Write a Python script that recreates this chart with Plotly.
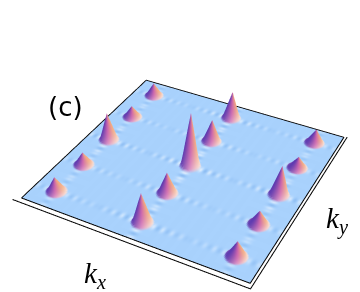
import numpy as np
import plotly.graph_objects as go

# Peak lattice and heights (tallest peak = 1)
kx_peaks = [-0.4, 0.0, 0.4]
ky_peaks = [-0.4, -0.2, 0.0, 0.2, 0.4]
heights_left = [0.28, 0.24, 0.52, 0.22, 0.25]
heights_mid = [0.56, 0.40, 1.00, 0.42, 0.52]
heights_right = [0.30, 0.27, 0.56, 0.22, 0.27]

# Peak cross-section: distance from the tip -> fraction of height
profile_r = [0.0, 0.006, 0.012, 0.02, 0.03, 0.038, 0.046]
profile_h = [1.0, 0.86, 0.71, 0.51, 0.26, 0.08, 0.0]

# Light/dark ripple lobes beside each peak: offset, strength
ripple_off = [0.050, 0.070, 0.090, 0.110, 0.130, 0.150, 0.170, 0.190]
ripple_amp = [1.0, -0.9, 0.85, -0.7, 0.6, -0.5, 0.45, -0.35]

FIG_W, FIG_H = 360, 590
EYE = dict(x=1.098, y=-2.153, z=1.836)
CENTER = dict(x=0.306, y=-0.666, z=0.0)
Z_UNIT = 0.26
Z_MAX = 1.2
BOX = 0.56

axis = np.linspace(-0.5, 0.5, 201)
X, Y = np.meshgrid(axis, axis)
Z = np.zeros_like(X)
R = np.zeros_like(X)
H = [heights_left, heights_mid, heights_right]

base = np.array([0xA9, 0xD2, 0xFD], float)
light = np.array([0xF6, 0xFA, 0xFF], float)
dark = np.array([0x78, 0xAC, 0xEA], float)
purple = np.array([0x5E, 0x3A, 0xB0], float)
magenta = np.array([0xCC, 0x62, 0xAC], float)
peach = np.array([0xF4, 0xAC, 0x80], float)
pale = np.array([0xFC, 0xF2, 0xF6], float)
view_x, view_y = 0.8846, 0.4675

for i, px in enumerate(kx_peaks):
    for j, py in enumerate(ky_peaks):
        dx, dy = X - px, Y - py
        for sx, sy in [(1, 0), (-1, 0), (0, 1), (0, -1)]:
            for off, amp in zip(ripple_off, ripple_amp):
                if sy != 0 and off > 0.1:
                    continue
                if abs(px + sx * off) > 0.49 or abs(py + sy * off) > 0.49:
                    continue
                wa, wc = 0.009, 0.017
                along = (dx - sx * off) if sx else (dy - sy * off)
                across = dy if sx else dx
                R = R + amp * min(1.0, 0.3 + H[i][j]) * np.exp(-(along / wa) ** 2 - (across / wc) ** 2)

rp = np.clip(R, 0, 1)[..., None] * 0.7
rn = np.clip(-R, 0, 1)[..., None] * 0.65
RGB = base * (1 - rp - rn) + light * rp + dark * rn

for i, px in enumerate(kx_peaks):
    for j, py in enumerate(ky_peaks):
        dx, dy = X - px, Y - py
        r = np.hypot(dx, dy)
        bump = np.interp(r, profile_r, profile_h)
        Z = Z + H[i][j] * bump
        side = (dx * view_x + dy * view_y) / np.maximum(r, 1e-6)
        t = (np.clip(side + 1, 0, 2) / 2)[..., None]
        col = np.where(t < 0.5, purple + (magenta - purple) * t * 2,
                       magenta + (peach - magenta) * (t - 0.5) * 2)
        low = ((1 - bump) ** 4)[..., None]
        col = col + (pale - col) * low * (0.05 + 0.85 * t)
        a = np.clip(bump / 0.05, 0, 1)[..., None]
        RGB = RGB * (1 - a) + col * a

vertexcolor = ["rgb(%d,%d,%d)" % tuple(c) for c in np.clip(RGB, 0, 255).reshape(-1, 3).astype(int)]
n = len(axis)
idx = np.arange(n * n).reshape(n, n)
a_, b_, c_, d_ = idx[:-1, :-1].ravel(), idx[:-1, 1:].ravel(), idx[1:, 1:].ravel(), idx[1:, :-1].ravel()

fig = go.Figure()
fig.add_trace(go.Mesh3d(
    x=X.ravel(), y=Y.ravel(), z=Z.ravel(),
    i=np.concatenate([a_, a_]), j=np.concatenate([b_, c_]), k=np.concatenate([c_, d_]),
    vertexcolor=vertexcolor,
    lighting=dict(ambient=1, diffuse=0, specular=0, roughness=1, fresnel=0),
    hoverinfo="skip", showscale=False,
))

def line(xs, ys, zs):
    fig.add_trace(go.Scatter3d(x=xs, y=ys, z=zs, mode="lines",
                               line=dict(color="black", width=2),
                               hoverinfo="skip", showlegend=False))

# plane outline
line([-0.5, -0.5, 0.5, 0.5, -0.5], [-0.5, 0.5, 0.5, -0.5, -0.5], [0.004] * 5)
# lower box edge
line([-0.545, 0.505, 0.505], [-0.505, -0.505, 0.54], [-0.08] * 3)

noaxis = dict(visible=False, showgrid=False, zeroline=False, showbackground=False)
fig.update_layout(
    width=FIG_W, height=FIG_H, autosize=False,
    margin=dict(l=0, r=0, t=0, b=0, pad=0),
    paper_bgcolor="white", showlegend=False,
    scene=dict(
        domain=dict(x=[0, 1], y=[0, 1]),
        xaxis=dict(range=[-BOX, BOX], **noaxis),
        yaxis=dict(range=[-BOX, BOX], **noaxis),
        zaxis=dict(range=[-Z_MAX, Z_MAX], **noaxis),
        aspectmode="manual",
        aspectratio=dict(x=2 * BOX, y=2 * BOX, z=2 * Z_MAX * Z_UNIT),
        camera=dict(eye=EYE, center=CENTER, up=dict(x=0, y=0, z=1)),
    ),
    annotations=[
        dict(text="(c)", x=65.5 / FIG_W, y=1 - 107 / FIG_H, xref="paper", yref="paper",
             xanchor="center", yanchor="middle", showarrow=False,
             font=dict(family="DejaVu Sans", size=26, color="black")),
        dict(text="<i>k</i><sub><i>x</i></sub>", x=95 / FIG_W, y=1 - 275 / FIG_H, xref="paper", yref="paper",
             xanchor="center", yanchor="middle", showarrow=False,
             font=dict(family="Liberation Serif", size=29, color="black")),
        dict(text="<i>k</i><sub><i>y</i></sub>", x=337 / FIG_W, y=1 - 220 / FIG_H, xref="paper", yref="paper",
             xanchor="center", yanchor="middle", showarrow=False,
             font=dict(family="Liberation Serif", size=29, color="black")),
    ],
)

fig.write_html("out.html", config=dict(displayModeBar=False), post_script=(
    "document.documentElement.style.overflow='hidden';"
    "document.body.style.overflow='hidden';document.body.style.margin='0';"
))
